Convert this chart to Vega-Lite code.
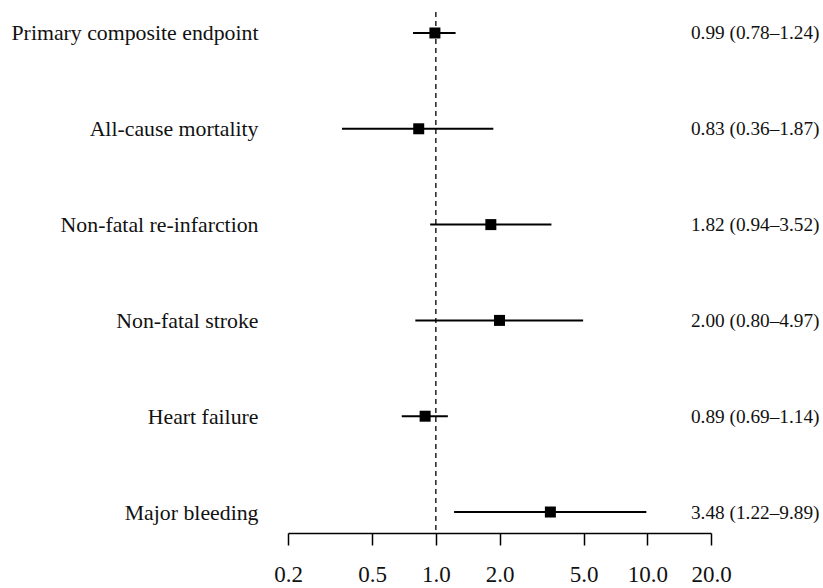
{
  "$schema": "https://vega.github.io/schema/vega-lite/v6.json",
  "width": 423,
  "height": 521,
  "autosize": "none",
  "padding": {"left": 288, "top": 12, "right": 112, "bottom": 55},
  "background": "white",
  "config": {"view": {"stroke": null}, "font": "Liberation Serif"},
  "data": {"values": [
    {"outcome": "Primary composite endpoint", "hr": 0.99, "lo": 0.78, "hi": 1.24, "ci": "0.99 (0.78–1.24)"},
    {"outcome": "All-cause mortality", "hr": 0.83, "lo": 0.36, "hi": 1.87, "ci": "0.83 (0.36–1.87)"},
    {"outcome": "Non-fatal re-infarction", "hr": 1.82, "lo": 0.94, "hi": 3.52, "ci": "1.82 (0.94–3.52)"},
    {"outcome": "Non-fatal stroke", "hr": 2.00, "lo": 0.80, "hi": 4.97, "ci": "2.00 (0.80–4.97)"},
    {"outcome": "Heart failure", "hr": 0.89, "lo": 0.69, "hi": 1.14, "ci": "0.89 (0.69–1.14)"},
    {"outcome": "Major bleeding", "hr": 3.48, "lo": 1.22, "hi": 9.89, "ci": "3.48 (1.22–9.89)"}
  ]},
  "layer": [
    {
      "layer": [
        {
          "data": {"values": [{"ref": 1}]},
          "mark": {"type": "rule", "strokeDash": [5, 4], "strokeWidth": 1.5, "color": "#222"},
          "encoding": {
            "x": {"field": "ref", "type": "quantitative", "scale": {"type": "log", "domain": [0.2, 20], "nice": false}}
          }
        },
        {
          "mark": {"type": "rule", "strokeWidth": 2, "color": "black"},
          "encoding": {
            "x": {
              "field": "lo", "type": "quantitative",
              "scale": {"type": "log", "domain": [0.2, 20], "nice": false},
              "axis": {
                "values": [0.2, 0.5, 1, 2, 5, 10, 20], "format": ".1f", "title": null, "grid": false,
                "tickSize": 12, "tickWidth": 1.5, "tickColor": "black", "domainWidth": 1.5, "domainColor": "black",
                "labelFontSize": 23, "labelColor": "#111", "labelPadding": 18, "labelFlush": false
              }
            },
            "x2": {"field": "hi"},
            "y": {
              "field": "outcome", "type": "nominal", "sort": null,
              "scale": {"type": "point", "padding": 0.219},
              "axis": {"title": null, "domain": false, "ticks": false, "grid": false, "labelFontSize": 21.8, "labelColor": "#111", "labelPadding": 30, "labelLimit": 0}
            }
          }
        },
        {
          "mark": {"type": "square", "size": 121, "filled": true, "opacity": 1, "color": "black"},
          "encoding": {
            "x": {"field": "hr", "type": "quantitative"},
            "y": {"field": "outcome", "type": "nominal", "sort": null}
          }
        }
      ]
    },
    {
      "mark": {"type": "point", "opacity": 0},
      "encoding": {
        "x": {"field": "hr", "type": "quantitative"},
        "y": {
          "field": "ci", "type": "nominal", "sort": null,
          "scale": {"type": "point", "padding": 0.219},
          "axis": {"orient": "right", "title": null, "domain": false, "ticks": false, "grid": false, "labelFontSize": 19.3, "labelColor": "#111", "labelAlign": "right", "labelPadding": 108, "labelLimit": 0}
        }
      }
    }
  ],
  "resolve": {"scale": {"y": "independent"}}
}
